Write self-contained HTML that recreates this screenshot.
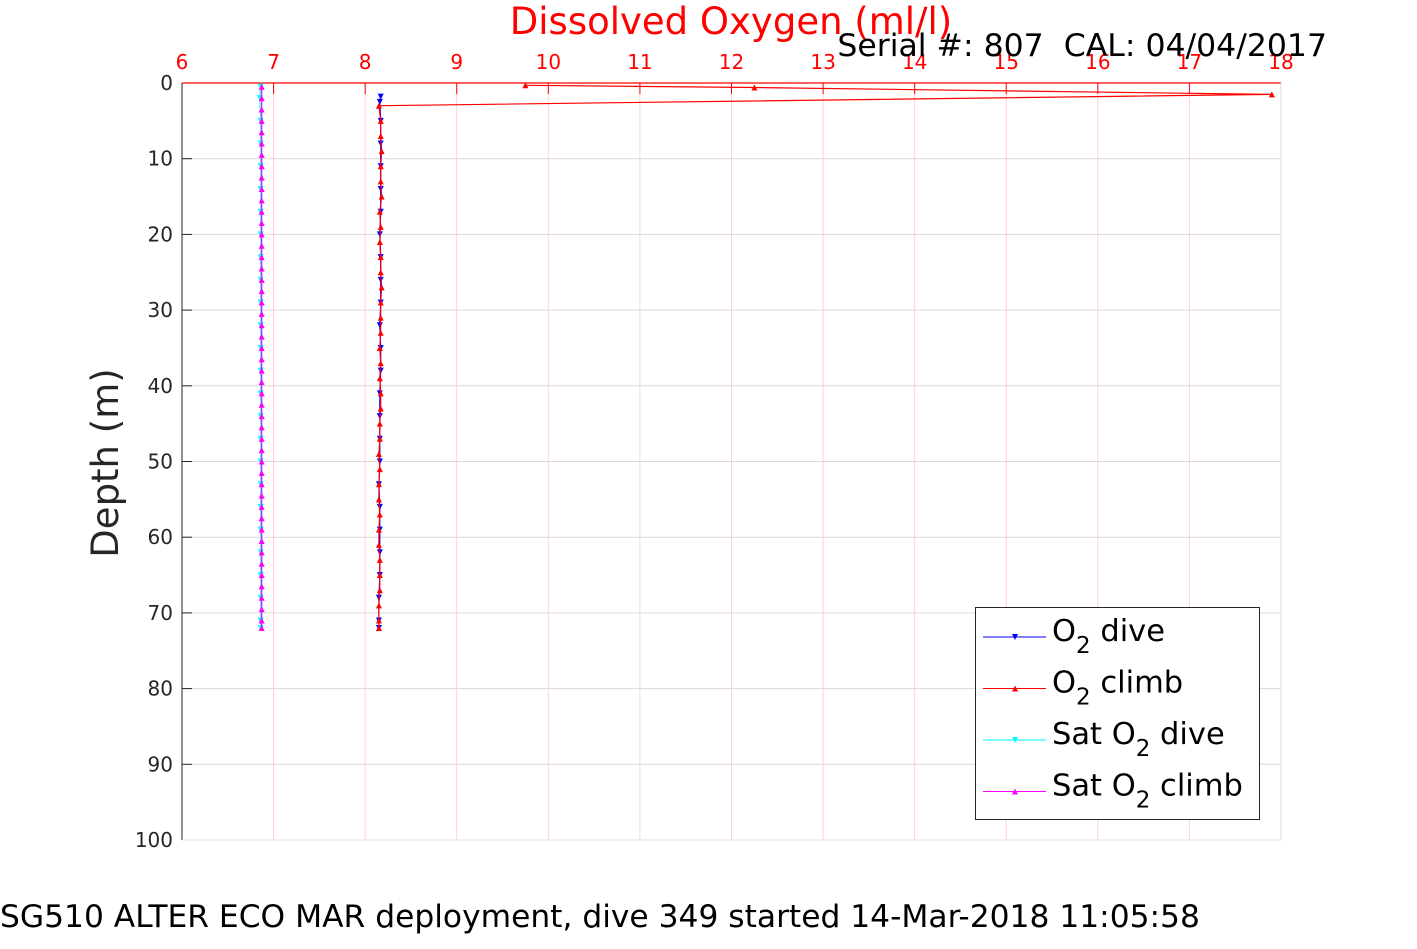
<!DOCTYPE html>
<html><head><meta charset="utf-8"><style>
body{margin:0;background:#fff;width:1417px;height:945px;overflow:hidden;font-family:"DejaVu Sans","Liberation Sans",sans-serif}
text{white-space:pre}
</style></head><body>
<svg id="chart" width="1417" height="945" xmlns="http://www.w3.org/2000/svg" font-family="DejaVu Sans, Liberation Sans, sans-serif">
<g id="grid"></g><g id="axes"></g><g id="series"></g>
<text x="731" y="34" text-anchor="middle" font-size="37" fill="#ff0000">Dissolved Oxygen (ml/l)</text>
<text x="1327" y="56" text-anchor="end" font-size="31.5" fill="#000" xml:space="preserve">Serial #: 807  CAL: 04/04/2017</text>
<text transform="translate(118,463) rotate(-90)" text-anchor="middle" font-size="37" fill="#262626">Depth (m)</text>
<text x="0" y="927" font-size="31.3" fill="#000">SG510 ALTER ECO MAR deployment, dive 349 started 14-Mar-2018 11:05:58</text>
<g>
<rect x="975.5" y="607.5" width="284" height="212" fill="#fff" stroke="#262626" stroke-width="1"/>
<g id="legend-items"></g>
</g>
</svg>
<script>
const xTicks=[6,7,8,9,10,11,12,13,14,15,16,17,18];
const yTicks=[0,10,20,30,40,50,60,70,80,90,100];
const climbDepth=[0.3,0.6,1.5,3,5,7,9,11,13,15,17,19,21,23,25,27,29,31,33,35,37,39,41,43,45,47,49,51,53,55,57,59,61,63,65,67,69,71,72];
const climbO2=[9.75,12.25,17.9,8.15,8.17,8.17,8.18,8.17,8.17,8.18,8.16,8.17,8.16,8.17,8.17,8.18,8.17,8.17,8.17,8.16,8.17,8.16,8.17,8.17,8.16,8.16,8.15,8.16,8.15,8.15,8.16,8.15,8.15,8.16,8.16,8.16,8.15,8.15,8.15];
const diveDepth=[1.8,2.5,5,8,11,14,17,20,23,26,29,32,35,38,41,44,47,50,53,56,59,62,65,68,71,72];
const diveO2=[8.17,8.16,8.17,8.17,8.17,8.17,8.17,8.16,8.17,8.17,8.17,8.16,8.17,8.17,8.16,8.16,8.16,8.16,8.15,8.16,8.16,8.16,8.16,8.15,8.15,8.15];
const satDiveDepth=[0.5,2,5,8,11,14,17,20,23,26,29,32,35,38,41,44,47,50,53,56,59,62,65,68,71,72];
const satDiveO2=[6.86,6.85,6.86,6.86,6.86,6.86,6.86,6.86,6.86,6.86,6.86,6.86,6.86,6.86,6.86,6.86,6.86,6.86,6.86,6.86,6.86,6.86,6.86,6.86,6.86,6.86];
const satClimbDepth=[0.5,2,3.5,5,6.5,8,9.5,11,12.5,14,15.5,17,18.5,20,21.5,23,24.5,26,27.5,29,30.5,32,33.5,35,36.5,38,39.5,41,42.5,44,45.5,47,48.5,50,51.5,53,54.5,56,57.5,59,60.5,62,63.5,65,66.5,68,69.5,71,72];
const satClimbO2=satClimbDepth.map(()=>6.87);
const X0=182,X1=1281,Y0=83,Y1=840,XMIN=6,XMAX=18,YMIN=0,YMAX=100;
const xs=v=>X0+(v-XMIN)/(XMAX-XMIN)*(X1-X0);
const ys=d=>Y0+(d-YMIN)/(YMAX-YMIN)*(Y1-Y0);
const NS="http://www.w3.org/2000/svg";
function mk(tag,attrs,parent){const e=document.createElementNS(NS,tag);for(const k in attrs)e.setAttribute(k,attrs[k]);parent.appendChild(e);return e;}
const grid=document.getElementById('grid'),axes=document.getElementById('axes'),series=document.getElementById('series');
yTicks.forEach(t=>{
 const l=mk('line',{x1:X0,x2:X1,y1:ys(t),y2:ys(t),stroke:'#d9d9d9','stroke-width':1},grid);
 
 
 const tk=mk('line',{x1:X0,x2:X0+10,y1:ys(t),y2:ys(t),stroke:'#262626','stroke-width':1},axes);
 
 
 const tx=mk('text',{x:X0-9,y:ys(t)+7,'text-anchor':'end','font-size':20,fill:'#262626'},axes);
 tx.textContent=t;
 
 
});
xTicks.forEach(t=>{
 const l=mk('line',{x1:xs(t),x2:xs(t),y1:Y0,y2:Y1,stroke:'#ffd0d0','stroke-width':1},grid);
 
 
 const tk=mk('line',{x1:xs(t),x2:xs(t),y1:Y0,y2:Y0+11,stroke:'#ff0000','stroke-width':1},axes);
 
 
 const tx=mk('text',{x:xs(t),y:Y0-14,'text-anchor':'middle','font-size':20,fill:'#ff0000'},axes);
 tx.textContent=t;
 
 
});
const la=mk('line',{x1:X0,x2:X0,y1:Y0,y2:Y1,stroke:'#262626','stroke-width':1},axes);


const ta=mk('line',{x1:X0,x2:X1,y1:Y0,y2:Y0,stroke:'#ff0000','stroke-width':1.3},axes);


mk('line',{x1:X1,x2:X1,y1:Y0,y2:Y1,stroke:'#dedede'},axes);
mk('line',{x1:X0,x2:X1,y1:Y1,y2:Y1,stroke:'#dedede'},axes);
function tri(x,y,up,s){return up?`${x-s},${y+s} ${x+s},${y+s} ${x},${y-s}`:`${x-s},${y-s} ${x+s},${y-s} ${x},${y+s}`;}
function drawSeries(name,vals,deps,color,up){
 const g=mk('g',{},series);
 
 
 const pts=vals.map((v,i)=>xs(v).toFixed(1)+','+ys(deps[i]).toFixed(1)).join(' ');
 mk('polyline',{points:pts,fill:'none',stroke:color,'stroke-width':1.2},g);
 vals.forEach((v,i)=>{
  const m=mk('polygon',{points:tri(xs(v),ys(deps[i]),up,3),fill:color},g);
  
  
 });
}
drawSeries('sat-o2-dive',satDiveO2,satDiveDepth,'#00ffff',false);
drawSeries('sat-o2-climb',satClimbO2,satClimbDepth,'#ff00ff',true);
drawSeries('o2-dive',diveO2,diveDepth,'#0000ff',false);
drawSeries('o2-climb',climbO2,climbDepth,'#ff0000',true);
const li=document.getElementById('legend-items');
const leg=[['O','2',' dive','','#0000ff',false],['O','2',' climb','','#ff0000',true],['Sat O','2',' dive','','#00ffff',false],['Sat O','2',' climb','','#ff00ff',true]];
leg.forEach((L,i)=>{
 const y=637+i*51.5;
 const g=mk('g',{},li);
 
 
 mk('line',{x1:983,x2:1046,y1:y,y2:y,stroke:L[4],'stroke-width':1},g);
 mk('polygon',{points:tri(1015,y,L[5],3),fill:L[4]},g);
 const t=mk('text',{x:1052,y:y+4,'font-size':30.5,fill:'#000'},g);
 const a=mk('tspan',{},t);a.textContent=L[0];
 const b=mk('tspan',{dy:12,'font-size':23},t);b.textContent=L[1];
 const c=mk('tspan',{dy:-12},t);c.textContent=L[2];
});
</script>
</body></html>
